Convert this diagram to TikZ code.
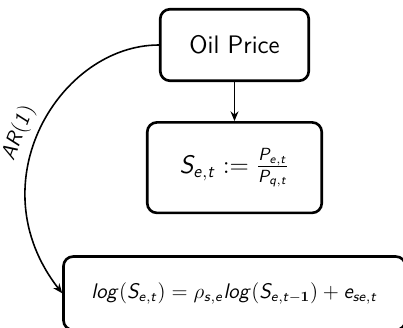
\documentclass[tikz,border=0pt]{standalone}
\usepackage{amsmath,amssymb}
\usepackage{tikz}
\usetikzlibrary{arrows.meta,positioning}
\renewcommand{\familydefault}{\sfdefault}
\DeclareMathAlphabet{\mathsl}{OT1}{cmss}{m}{sl}

\begin{document}
\begin{tikzpicture}[
  box/.style={draw, rounded corners=5.5pt, line width=1.5pt, align=center},
  arr/.style={-{Stealth[length=5.5pt,width=4.5pt]}, line width=0.9pt},
  lbl/.style={inner sep=4pt, font=\large}
]
\useasboundingbox (0,0) rectangle (8.06,-6.56);
\node[box, minimum width=2.97cm, minimum height=1.43cm, font=\Large] (oil) at (4.69,-0.9) {Oil Price};
\node[box, minimum width=3.49cm, minimum height=1.81cm, font=\Large, below=0.78cm of oil] (ratio)
  {$\mathsl{S}_{\mathsl{e,t}} := \frac{\mathsl{P}_{\mathsl{e,t}}}{\mathsl{P}_{\mathsl{q,t}}}$};
\node[box, minimum width=6.84cm, minimum height=1.47cm, font=\large, below=0.82cm of ratio] (ar)
  {$\mathsl{log}(\mathsl{S}_{\mathsl{e,t}}) = \rho_{\mathsl{s,e}}\mathsl{log}(\mathsl{S}_{\mathsl{e,t}-\mathbf{1}}) + \mathsl{e}_{\mathsl{se,t}}$};

\draw[arr] (oil) -- (ratio);
\draw[arr] (oil.west) to[out=180, in=128, out looseness=0.95, in looseness=1.35]
  node[lbl, pos=0.54, sloped, above] {$\mathsl{AR(1)}$} (ar.west);
\end{tikzpicture}
\end{document}
